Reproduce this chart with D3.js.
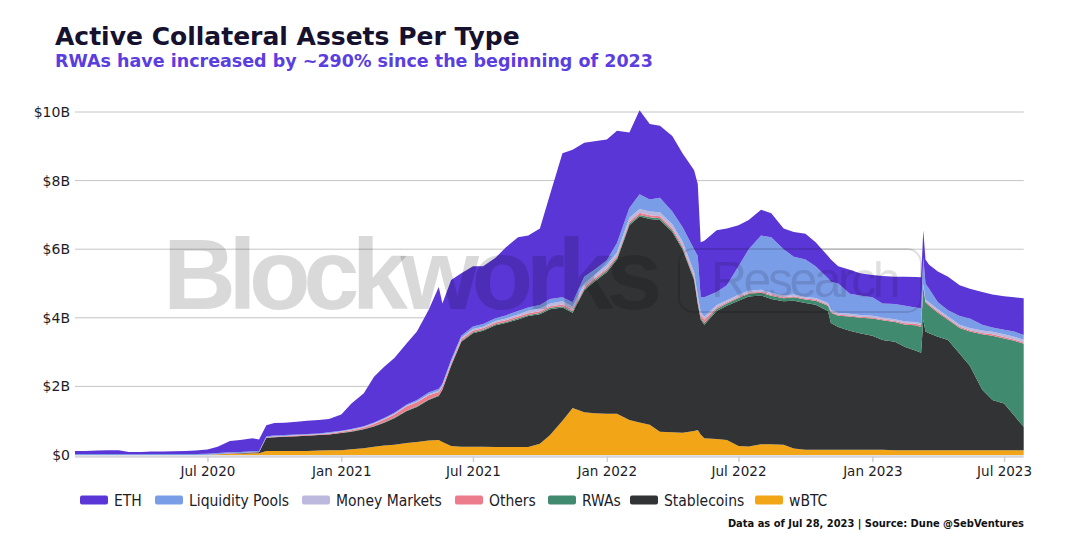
<!DOCTYPE html>
<html><head><meta charset="utf-8">
<script src="https://cdn.jsdelivr.net/npm/d3@7/dist/d3.min.js"></script>
<style>
html,body{margin:0;padding:0;background:#fff;}
svg{display:block;}
</style></head>
<body>
<svg id="chart" width="1090" height="545"></svg>
<script>
// ---------------- DATA (values in $B) ----------------
const dates = [
"2020-01-01","2020-01-15","2020-02-01","2020-02-15","2020-03-01","2020-03-15","2020-04-01","2020-04-15",
"2020-05-01","2020-05-15","2020-06-01","2020-06-15","2020-07-01","2020-07-15","2020-08-01","2020-08-15",
"2020-09-01","2020-09-10","2020-09-20","2020-10-01","2020-10-15","2020-11-01","2020-11-15","2020-12-01",
"2020-12-15","2021-01-01","2021-01-15","2021-02-01","2021-02-15","2021-03-01","2021-03-15","2021-04-01",
"2021-04-15","2021-05-01","2021-05-15","2021-05-20","2021-06-01","2021-06-15","2021-07-01","2021-07-15",
"2021-08-01","2021-08-15","2021-09-01","2021-09-15","2021-10-01","2021-10-15","2021-11-01","2021-11-15",
"2021-12-01","2021-12-15","2022-01-01","2022-01-15","2022-02-01","2022-02-15","2022-03-01","2022-03-15",
"2022-04-01","2022-04-15","2022-05-01","2022-05-06","2022-05-10","2022-05-15","2022-06-01","2022-06-15",
"2022-07-01","2022-07-15","2022-08-01","2022-08-15","2022-09-01","2022-09-15","2022-10-01","2022-10-15",
"2022-11-01","2022-11-05","2022-11-15","2022-12-01","2022-12-15","2023-01-01","2023-01-15","2023-02-01",
"2023-02-15","2023-03-01","2023-03-09","2023-03-12","2023-03-15","2023-03-20","2023-04-01","2023-04-15",
"2023-05-01","2023-05-15","2023-06-01","2023-06-15","2023-07-01","2023-07-15","2023-07-28"
];
const wbtc = [
0,0,0,0,0,0,0,0, 0,0,0,0,0.01,0.02,0.03,0.04,
0.05,0.05,0.12,0.12,0.12,0.12,0.12,0.13, 0.14,0.14,0.17,0.20,0.24,0.28,0.30,0.35,
0.38,0.42,0.44,0.38,0.26,0.24,0.24,0.24, 0.23,0.23,0.23,0.23,0.33,0.58,1.00,1.37,
1.25,1.22,1.20,1.20,1.02,0.95,0.88,0.68, 0.66,0.65,0.70,0.73,0.60,0.49,0.47,0.44,
0.26,0.25,0.31,0.31,0.30,0.19,0.15,0.15, 0.15,0.15,0.15,0.15,0.15,0.15,0.15,0.14,
0.14,0.14,0.14,0.14,0.14,0.14,0.14,0.14, 0.14,0.14,0.14,0.14,0.14,0.14,0.14
];
const stablecoins = [
0,0,0,0,0,0,0,0, 0,0,0,0,0,0.005,0.01,0.01,
0.02,0.03,0.38,0.40,0.41,0.43,0.44,0.45, 0.46,0.50,0.51,0.55,0.59,0.66,0.77,0.93,
1.02,1.18,1.28,1.52,2.34,3.06,3.31,3.38, 3.55,3.62,3.72,3.82,3.77,3.67,3.30,2.78,
3.55,3.83,4.13,4.50,5.68,6.00,6.00,6.17, 5.84,5.35,4.40,3.67,3.35,3.31,3.73,3.91,
4.24,4.37,4.34,4.24,4.18,4.31,4.28,4.23, 4.05,3.70,3.58,3.47,3.40,3.33,3.20,3.16,
3.01,2.91,2.84,3.81,3.46,3.41,3.31,3.21, 2.81,2.46,1.76,1.46,1.36,1.01,0.68
];
const rwas = [
0,0,0,0,0,0,0,0, 0,0,0,0,0,0,0,0,
0,0,0,0,0,0,0,0, 0,0.01,0.01,0.01,0.015,0.015,0.02,0.02,
0.02,0.02,0.02,0.02,0.025,0.025,0.03,0.03, 0.03,0.03,0.035,0.035,0.04,0.04,0.04,0.04,
0.04,0.045,0.05,0.05,0.05,0.05,0.05,0.05, 0.05,0.05,0.05,0.05,0.05,0.05,0.06,0.07,
0.08,0.08,0.08,0.09,0.09,0.10,0.10,0.12, 0.15,0.30,0.33,0.42,0.45,0.50,0.58,0.58,
0.65,0.73,0.75,0.95,0.85,0.80,0.70,0.59, 0.75,1.00,1.62,1.88,1.90,2.18,2.42
];
const others = [
0,0,0,0,0,0,0,0, 0,0,0,0,0,0,0.01,0.01,
0.01,0.01,0.01,0.015,0.015,0.02,0.02,0.02, 0.02,0.025,0.03,0.04,0.06,0.08,0.09,0.12,
0.12,0.12,0.10,0.08,0.06,0.06,0.05,0.05, 0.05,0.05,0.05,0.05,0.05,0.05,0.05,0.05,
0.05,0.05,0.06,0.06,0.06,0.06,0.06,0.06, 0.06,0.06,0.06,0.07,0.08,0.10,0.04,0.03,
0.03,0.03,0.03,0.03,0.03,0.03,0.03,0.03, 0.03,0.03,0.03,0.03,0.03,0.03,0.03,0.03,
0.04,0.05,0.06,0.03,0.03,0.04,0.04,0.04, 0.04,0.04,0.04,0.04,0.04,0.04,0.04
];
const moneyMarkets = [
0,0,0,0,0,0,0,0, 0,0,0,0,0,0,0,0,
0,0,0.01,0.01,0.01,0.01,0.01,0.01, 0.015,0.015,0.02,0.02,0.02,0.02,0.02,0.02,
0.02,0.03,0.03,0.03,0.03,0.03,0.04,0.04, 0.05,0.05,0.06,0.07,0.08,0.08,0.09,0.09,
0.10,0.10,0.10,0.10,0.11,0.11,0.11,0.12, 0.12,0.12,0.12,0.12,0.10,0.08,0.07,0.06,
0.06,0.06,0.06,0.06,0.05,0.05,0.05,0.05, 0.05,0.05,0.05,0.05,0.05,0.05,0.05,0.05,
0.05,0.05,0.05,0.05,0.05,0.06,0.06,0.06, 0.06,0.06,0.07,0.07,0.08,0.08,0.08
];
const liquidityPools = [
0.03,0.03,0.03,0.03,0.03,0.025,0.025,0.03, 0.03,0.03,0.03,0.03,0.03,0.03,0.03,0.03,
0.03,0.03,0.03,0.025,0.025,0.02,0.02,0.02, 0.025,0.02,0.02,0.02,0.025,0.025,0.03,0.03,
0.04,0.05,0.06,0.05,0.065,0.065,0.08,0.08, 0.08,0.09,0.105,0.095,0.10,0.13,0.12,0.12,
0.21,0.155,0.14,0.27,0.28,0.43,0.35,0.42, 0.37,0.42,0.67,1.16,0.42,0.57,0.38,0.44,
0.83,1.21,1.58,1.62,1.35,1.10,1.09,0.92, 0.72,0.82,0.86,0.58,0.57,0.54,0.41,0.44,
0.46,0.42,0.44,0.77,0.47,0.40,0.20,0.18, 0.25,0.28,0.17,0.13,0.13,0.15,0.14
];
const eth = [
0.09,0.09,0.10,0.11,0.11,0.065,0.065,0.07, 0.07,0.08,0.09,0.10,0.12,0.185,0.33,0.35,
0.38,0.33,0.32,0.36,0.36,0.37,0.39,0.39, 0.39,0.47,0.74,0.96,1.33,1.49,1.60,1.79,
2.00,2.41,2.97,2.34,2.32,1.82,1.75,1.68, 1.76,1.98,2.15,2.10,2.23,3.05,4.20,4.45,
3.90,3.75,3.52,3.27,2.20,2.45,2.20,2.10, 2.20,2.15,2.30,2.10,1.60,1.65,1.80,1.65,
1.20,0.85,0.75,0.70,0.60,0.72,0.75,0.70, 0.65,0.65,0.50,0.70,0.65,0.65,0.80,0.80,
0.85,0.89,0.90,0.80,0.70,0.70,0.90,0.98, 0.90,0.87,0.95,0.96,0.98,1.00,1.07
];
const seriesNames = ["ETH","Liquidity Pools","Money Markets","Others","RWAs","Stablecoins","wBTC"];
const seriesColors = ["#5a36d6","#7a9de8","#bdb8de","#ec7b8c","#408a6f","#313335","#f2a516"];
const yTicks = [0,2,4,6,8,10];
const yTickLabels = ["$0","$2B","$4B","$6B","$8B","$10B"];
const xTicks = ["2020-07-01","2021-01-01","2021-07-01","2022-01-01","2022-07-01","2023-01-01","2023-07-01"];
const xTickLabels = ["Jul 2020","Jan 2021","Jul 2021","Jan 2022","Jul 2022","Jan 2023","Jul 2023"];
const titleText = "Active Collateral Assets Per Type";
const subtitleText = "RWAs have increased by ~290% since the beginning of 2023";
const footerText = "Data as of Jul 28, 2023 | Source: Dune @SebVentures";

// ---------------- BUILD ----------------
const parse = d3.timeParse("%Y-%m-%d");
const valuesByName = {
  "ETH": eth, "Liquidity Pools": liquidityPools, "Money Markets": moneyMarkets,
  "Others": others, "RWAs": rwas, "Stablecoins": stablecoins, "wBTC": wbtc
};
const rows = dates.map((d, i) => {
  const r = { date: parse(d) };
  seriesNames.forEach(n => r[n] = valuesByName[n][i]);
  return r;
});
const stackOrder = ["wBTC","Stablecoins","RWAs","Others","Money Markets","Liquidity Pools","ETH"];
const color = d3.scaleOrdinal().domain(seriesNames).range(seriesColors);

const svg = d3.select("#chart");
const M = { left: 75, right: 1023.7, top: 112, bottom: 455 };

const x = d3.scaleTime()
  .domain([parse(dates[0]), parse(dates[dates.length - 1])])
  .range([M.left, M.right]);
const y = d3.scaleLinear().domain([0, 10]).range([M.bottom, M.top]);

// gridlines
const grid = svg.append("g").attr("class", "grid");
grid.selectAll("line").data(yTicks.filter(t => t > 0)).join("line")
  .attr("x1", M.left).attr("x2", M.right)
  .attr("y1", d => y(d)).attr("y2", d => y(d))
  .attr("stroke", "#c4c4c4").attr("stroke-width", 1);

// stacked areas
const stacked = d3.stack().keys(stackOrder)(rows);
const area = d3.area()
  .x(d => x(d.data.date))
  .y0(d => y(d[0]))
  .y1(d => y(d[1]))
  .curve(d3.curveLinear);
svg.append("g").selectAll("path").data(stacked).join("path")
  .attr("d", area)
  .attr("fill", d => color(d.key));

// x axis line & ticks
svg.append("line")
  .attr("x1", M.left).attr("x2", M.right)
  .attr("y1", M.bottom + 1.5).attr("y2", M.bottom + 1.5)
  .attr("stroke", "#d5d6dc").attr("stroke-width", 2.5);

const xAxis = d3.axisBottom(x)
  .tickValues(xTicks.map(parse))
  .tickFormat((d, i) => xTickLabels[i])
  .tickSize(6).tickPadding(4);
const gx = svg.append("g").attr("transform", `translate(0,${M.bottom + 1})`).call(xAxis);
gx.select(".domain").remove();
gx.selectAll(".tick line").attr("stroke", "#cfd0d6").attr("stroke-width", 1.5);
gx.selectAll(".tick text").attr("fill", "#1c1c28")
  .style("font-family", "DejaVu Sans, Verdana, sans-serif").style("font-size", "13.5px");

const yAxis = d3.axisLeft(y)
  .tickValues(yTicks)
  .tickFormat((d, i) => yTickLabels[i])
  .tickSize(0).tickPadding(5);
const gy = svg.append("g").attr("transform", `translate(${M.left},0)`).call(yAxis);
gy.select(".domain").remove();
gy.selectAll(".tick text").attr("fill", "#1c1c28")
  .style("font-family", "DejaVu Sans, Verdana, sans-serif").style("font-size", "14px");

// watermark
const wm = svg.append("g").attr("pointer-events", "none");
wm.append("text").attr("x", 163).attr("y", 309)
  .text("Blockworks")
  .style("font-family", "Liberation Sans, Arial, sans-serif")
  .style("font-weight", "bold").style("font-size", "101px")
  .style("letter-spacing", "-7.5px")
  .attr("fill", "rgba(0,0,0,0.15)");
wm.append("rect").attr("x", 679).attr("y", 249).attr("width", 242).attr("height", 63)
  .attr("rx", 14).attr("fill", "none")
  .attr("stroke", "rgba(0,0,0,0.13)").attr("stroke-width", 2);
wm.append("text").attr("x", 711).attr("y", 297)
  .text("Research")
  .style("font-family", "Liberation Sans, Arial, sans-serif")
  .style("font-size", "50px").style("letter-spacing", "-3.5px")
  .attr("fill", "rgba(0,0,0,0.12)");

// title / subtitle
svg.append("text").attr("x", 55).attr("y", 45)
  .text(titleText)
  .style("font-family", "DejaVu Sans, Verdana, sans-serif")
  .style("font-weight", "bold").style("font-size", "25px")
  .attr("fill", "#15112e");
svg.append("text").attr("x", 55).attr("y", 67)
  .text(subtitleText)
  .style("font-family", "DejaVu Sans, Verdana, sans-serif")
  .style("font-weight", "bold").style("font-size", "17.5px")
  .attr("fill", "#5b3ee0");

// legend
const legendX = [80, 155, 302, 455, 548, 630, 755];
const lg = svg.append("g");
seriesNames.forEach((n, i) => {
  const g = lg.append("g").attr("transform", `translate(${legendX[i]},500)`);
  g.append("rect").attr("x", 0).attr("y", -4.5).attr("width", 28).attr("height", 9)
    .attr("rx", 2).attr("fill", color(n));
  g.append("text").attr("x", 34).attr("y", 5.5)
    .text(n)
    .style("font-family", "DejaVu Sans Condensed, DejaVu Sans, sans-serif")
    .style("font-size", "15.5px").attr("fill", "#1c1c28");
});

// footer
svg.append("text").attr("x", 1024).attr("y", 527)
  .attr("text-anchor", "end")
  .text(footerText)
  .style("font-family", "DejaVu Sans Condensed, DejaVu Sans, sans-serif")
  .style("font-weight", "bold").style("font-size", "11px")
  .attr("fill", "#111");
</script>
</body></html>
